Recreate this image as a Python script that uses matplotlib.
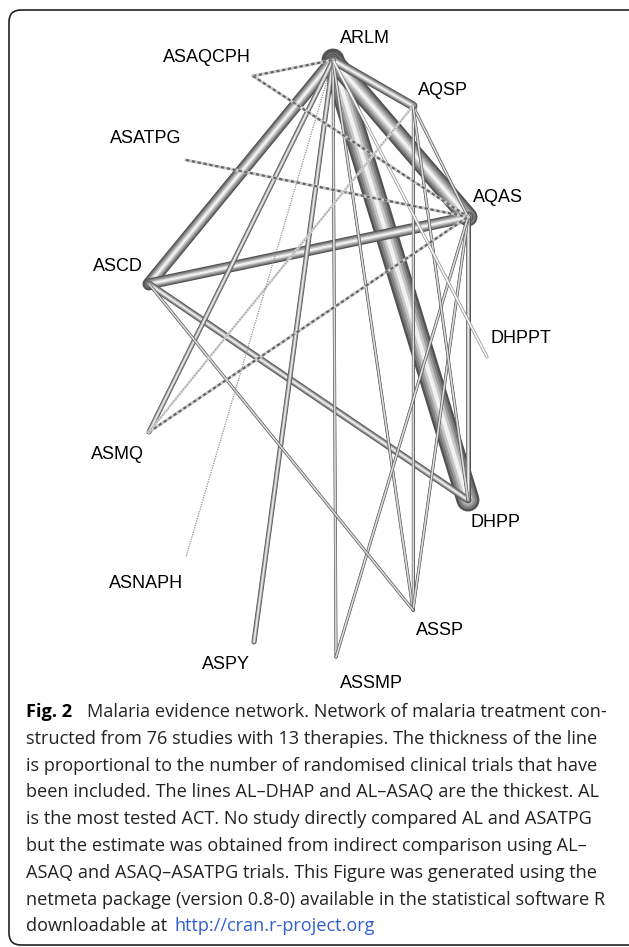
import matplotlib
matplotlib.use("Agg")
import matplotlib.pyplot as plt
from matplotlib.patches import FancyBboxPatch

# les traitements (13 therapies)
noeuds = ['ARLM', 'AQSP', 'AQAS', 'DHPPT', 'DHPP', 'ASSP', 'ASSMP',
          'ASPY', 'ASNAPH', 'ASMQ', 'ASCD', 'ASATPG', 'ASAQCPH']

# comparaisons : (traitement 1, traitement 2, nombre d'essais)
comparaisons_t1 = ['ARLM', 'ARLM', 'ARLM', 'ASCD', 'ARLM', 'ASCD', 'AQAS',
                   'ARLM', 'ARLM', 'ARLM', 'ARLM', 'AQSP', 'AQAS', 'AQAS',
                   'ASCD', 'AQSP', 'AQSP', 'ARLM']
comparaisons_t2 = ['DHPP', 'AQAS', 'ASCD', 'AQAS', 'AQSP', 'DHPP', 'DHPP',
                   'ASPY', 'ASMQ', 'ASSMP', 'ASSP', 'ASSP', 'ASSP', 'ASSMP',
                   'ASSP', 'AQAS', 'DHPP', 'DHPPT']
nb_essais = [11, 9, 6, 5, 4, 3, 2, 2, 2, 1, 1, 1, 1, 1, 1, 1, 1, 1]

# comparaisons tracees en pointilles
pointilles_t1 = ['ASAQCPH', 'ASAQCPH', 'ASATPG', 'ASMQ', 'ASMQ', 'ARLM']
pointilles_t2 = ['ARLM', 'AQAS', 'AQAS', 'AQAS', 'AQSP', 'ASNAPH']

legende = [
    "Malaria evidence network. Network of malaria treatment con-",
    "structed from 76 studies with 13 therapies. The thickness of the line",
    "is proportional to the number of randomised clinical trials that have",
    "been included. The lines AL\u2013DHAP and AL\u2013ASAQ are the thickest. AL",
    "is the most tested ACT. No study directly compared AL and ASATPG",
    "but the estimate was obtained from indirect comparison using AL\u2013",
    "ASAQ and ASAQ\u2013ASATPG trials. This Figure was generated using the",
    "netmeta package (version 0.8-0) available in the statistical software R",
    "downloadable at ",
]
lien = "http://cran.r-project.org"

# disposition du reseau (pixels)
position = {
    'ARLM': (333, 60), 'AQSP': (413, 106), 'AQAS': (468, 217),
    'DHPPT': (487, 357), 'DHPP': (468, 500), 'ASSP': (413, 610),
    'ASSMP': (336, 657), 'ASPY': (254, 642), 'ASNAPH': (186, 557),
    'ASMQ': (149, 432), 'ASCD': (149, 284), 'ASATPG': (186, 160),
    'ASAQCPH': (253, 76),
}
position_texte = {
    'ARLM': (365, 38), 'AQSP': (443, 90), 'AQAS': (498, 197),
    'DHPPT': (521, 338), 'DHPP': (496, 522), 'ASSP': (440, 630),
    'ASSMP': (371, 683), 'ASPY': (226, 664), 'ASNAPH': (146, 583),
    'ASMQ': (117, 454), 'ASCD': (118, 266), 'ASATPG': (146, 138),
    'ASAQCPH': (207, 57),
}

PX = 0.72  # points par pixel a 100 dpi

fig = plt.figure(figsize=(6.29, 9.47), dpi=100)
ax = fig.add_axes([0, 0, 1, 1])
ax.set_xlim(0, 629)
ax.set_ylim(947, 0)
ax.axis('off')

# cadre arrondi (le bord droit sort de l'image)
cadre = FancyBboxPatch((9, 10), 660, 935, boxstyle="round,pad=0,rounding_size=12",
                       fill=False, edgecolor='#222222', linewidth=1.2)
ax.add_patch(cadre)


def tube(a, b, largeur, clair=0.0):
    # effet de cylindre : couches de plus en plus claires
    x1, y1 = position[a]
    x2, y2 = position[b]
    couches = [(1.0, 0.32), (0.8, 0.48), (0.6, 0.62), (0.4, 0.78), (0.18, 0.95)]
    for frac, g in couches:
        g = min(1.0, g + clair)
        ax.plot([x1, x2], [y1, y2], color=str(g), lw=largeur * frac * PX,
                solid_capstyle='round')


# les plus epais d'abord
for t1, t2, n in sorted(zip(comparaisons_t1, comparaisons_t2, nb_essais), key=lambda c: -c[2]):
    clair = 0.18 if t2 == 'DHPPT' else 0.0
    tube(t1, t2, 1 + 2 * n, clair)

for t1, t2 in zip(pointilles_t1, pointilles_t2):
    x1, y1 = position[t1]
    x2, y2 = position[t2]
    if t2 == 'ASNAPH':
        ax.plot([x1, x2], [y1, y2], color='0.55', lw=1.2 * PX, ls=(0, (1, 1)))
    elif t2 == 'AQSP':
        ax.plot([x1, x2], [y1, y2], color='0.85', lw=2.5 * PX)
        ax.plot([x1, x2], [y1, y2], color='0.65', lw=1.5 * PX, ls=(0, (1, 1)))
    else:
        ax.plot([x1, x2], [y1, y2], color='0.8', lw=3 * PX)
        ax.plot([x1, x2], [y1, y2], color='0.4', lw=2.2 * PX, ls=(0, (1.5, 1.2)))

police_noeud = ['Liberation Sans', 'DejaVu Sans']
for nom in noeuds:
    x, y = position_texte[nom]
    ax.text(x, y, nom, ha='center', va='center', fontsize=13,
            family=police_noeud, color='black')

# legende de la figure
police = ['Open Sans', 'DejaVu Sans']
y0 = 712
pas = 26.8
taille = 13.1
ax.text(26, y0, "Fig. 2", fontsize=taille, fontweight='bold', family=police,
        va='center', ha='left', color='black')
for i, ligne in enumerate(legende):
    x = 87 if i == 0 else 26
    ax.text(x, y0 + i * pas, ligne, fontsize=taille, family=police,
            va='center', ha='left', color='#222222')
ax.text(175, y0 + 8 * pas, lien, fontsize=taille, family=police,
        va='center', ha='left', color='#2f5fd0')

fig.savefig('out.png', dpi=100)
